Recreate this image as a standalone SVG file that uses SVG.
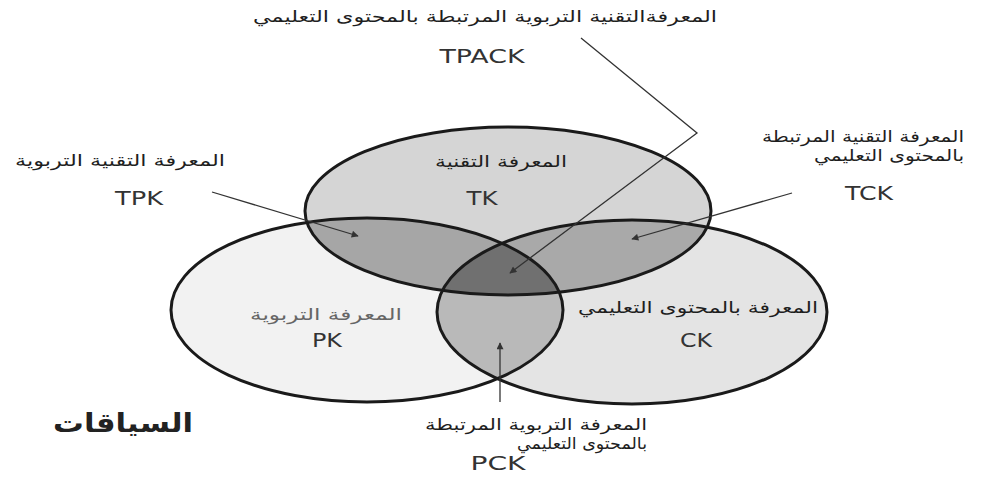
<svg xmlns="http://www.w3.org/2000/svg" width="985" height="477" viewBox="0 0 985 477">
<style>
.ar{font-family:"DejaVu Sans",sans-serif;font-size:16px;fill:#1e1e1e;text-anchor:middle}
.lt{font-family:"DejaVu Sans",sans-serif;font-size:20px;fill:#333;text-anchor:middle}
.ol{fill:none;stroke:#1a1a1a;stroke-width:3}
.cn{fill:none;stroke:#333;stroke-width:1.3}
</style>
<defs>
<clipPath id="cTK"><ellipse cx="508" cy="211" rx="203" ry="84"/></clipPath>
<clipPath id="cPK"><ellipse cx="367" cy="310" rx="196" ry="92"/></clipPath>
<marker id="ah" viewBox="0 0 10 10" refX="9" refY="5" markerWidth="9" markerHeight="7" orient="auto" markerUnits="userSpaceOnUse"><path d="M0,0 L10,5 L0,10 z" fill="#333"/></marker>
</defs>
<rect width="985" height="477" fill="#fff"/>
<g id="fills">
<ellipse cx="367" cy="310" rx="196" ry="92" fill="#f2f2f2"/>
<ellipse cx="632" cy="312" rx="195" ry="92" fill="#e4e4e4"/>
<ellipse cx="508" cy="211" rx="203" ry="84" fill="#d5d5d5"/>
<ellipse cx="367" cy="310" rx="196" ry="92" fill="#a6a6a6" clip-path="url(#cTK)"/>
<ellipse cx="632" cy="312" rx="195" ry="92" fill="#a9a9a9" clip-path="url(#cTK)"/>
<ellipse cx="632" cy="312" rx="195" ry="92" fill="#b9b9b9" clip-path="url(#cPK)"/>
<g clip-path="url(#cTK)"><ellipse cx="632" cy="312" rx="195" ry="92" fill="#707070" clip-path="url(#cPK)"/></g>
</g>
<g id="TK"><ellipse class="ol" cx="508" cy="211" rx="203" ry="84"/>
<text class="ar" x="501" y="167" textLength="132" lengthAdjust="spacingAndGlyphs">المعرفة التقنية</text><text class="lt" x="482" y="205" textLength="31" lengthAdjust="spacingAndGlyphs">TK</text></g>
<g id="PK"><ellipse class="ol" cx="367" cy="310" rx="196" ry="92"/>
<text class="ar" x="326" y="320" textLength="152" lengthAdjust="spacingAndGlyphs" style="fill:#666">المعرفة التربوية</text><text class="lt" x="327" y="347" textLength="30" lengthAdjust="spacingAndGlyphs">PK</text></g>
<g id="CK"><ellipse class="ol" cx="632" cy="312" rx="195" ry="92"/>
<text class="ar" x="698" y="313" textLength="240" lengthAdjust="spacingAndGlyphs">المعرفة بالمحتوى التعليمي</text><text class="lt" x="696" y="347" textLength="32" lengthAdjust="spacingAndGlyphs">CK</text></g>
<g id="TPACK"><text class="ar" x="485" y="22" textLength="464" lengthAdjust="spacingAndGlyphs">المعرفةالتقنية التربوية المرتبطة بالمحتوى التعليمي</text><text class="lt" x="482" y="63" textLength="85" lengthAdjust="spacingAndGlyphs">TPACK</text></g>
<g id="TPK"><text class="ar" x="120" y="166" textLength="210" lengthAdjust="spacingAndGlyphs">المعرفة التقنية التربوية</text><text class="lt" x="139" y="205" textLength="48" lengthAdjust="spacingAndGlyphs">TPK</text></g>
<g id="TCK"><text class="ar" x="863" y="142" textLength="202" lengthAdjust="spacingAndGlyphs">المعرفة التقنية المرتبطة</text><text class="ar" x="889" y="161" textLength="150" lengthAdjust="spacingAndGlyphs">بالمحتوى التعليمي</text><text class="lt" x="869" y="200" textLength="48" lengthAdjust="spacingAndGlyphs">TCK</text></g>
<g id="PCK"><text class="ar" x="536" y="430" textLength="222" lengthAdjust="spacingAndGlyphs">المعرفة التربوية المرتبطة</text><text class="ar" x="582" y="449" textLength="130" lengthAdjust="spacingAndGlyphs">بالمحتوى التعليمي</text><text class="lt" x="498" y="470" textLength="55" lengthAdjust="spacingAndGlyphs">PCK</text></g>
<g id="contexts"><text x="123" y="432" textLength="140" lengthAdjust="spacingAndGlyphs" style="font-family:'DejaVu Sans',sans-serif;font-size:26px;font-weight:bold;fill:#222;text-anchor:middle">السياقات</text></g>
<g id="connectors">
<line class="cn" x1="212" y1="192" x2="358" y2="236" marker-end="url(#ah)"/>
<line class="cn" x1="792" y1="193" x2="632" y2="239" marker-end="url(#ah)"/>
<polyline class="cn" points="581,38 697,133 510,273" marker-end="url(#ah)"/>
<line class="cn" x1="500" y1="402" x2="500" y2="343" marker-end="url(#ah)"/>
</g>
</svg>
